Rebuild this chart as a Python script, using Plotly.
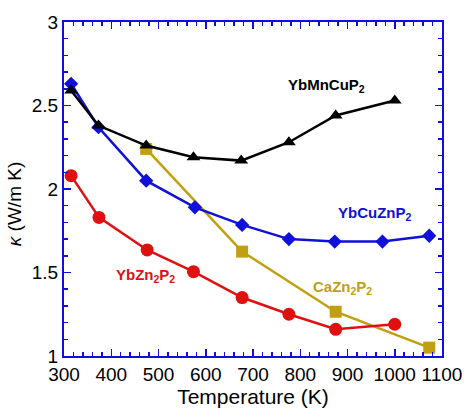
import plotly.graph_objects as go

T_mncu = [315, 373, 474, 574, 675, 776, 875, 1000]
k_mncu = [2.59, 2.38, 2.26, 2.19, 2.17, 2.28, 2.44, 2.53]

T_cuzn = [315, 373, 474, 577, 677, 776, 873, 974, 1073]
k_cuzn = [2.63, 2.37, 2.05, 1.89, 1.785, 1.70, 1.685, 1.685, 1.72]

T_ybzn = [315, 374, 476, 574, 677, 776, 875, 1000]
k_ybzn = [2.08, 1.83, 1.635, 1.505, 1.35, 1.25, 1.16, 1.19]

T_cazn = [474, 677, 875, 1073]
k_cazn = [2.24, 1.625, 1.265, 1.05]

BLUE = "#1010d8"
RED = "#e01010"
GOLD = "#c0a010"
BLACK = "#000000"
FONT = "Arial, Liberation Sans"

fig = go.Figure()
series = [
    (T_cazn, k_cazn, GOLD, "square", 12),
    (T_ybzn, k_ybzn, RED, "circle", 13),
    (T_cuzn, k_cuzn, BLUE, "diamond", 11),
    (T_mncu, k_mncu, BLACK, "triangle-up", 12),
]
for x, y, c, sym, sz in series:
    fig.add_trace(go.Scatter(x=x, y=y, mode="lines+markers",
                             line=dict(color=c, width=2.5),
                             marker=dict(symbol=sym, size=sz, color=c),
                             showlegend=False))

labels = [
    (855, 2.62, "YbMnCuP<sub>2</sub>", BLACK),
    (958, 1.855, "YbCuZnP<sub>2</sub>", BLUE),
    (473, 1.48, "YbZn<sub>2</sub>P<sub>2</sub>", RED),
    (890, 1.41, "CaZn<sub>2</sub>P<sub>2</sub>", GOLD),
]
for x, y, t, c in labels:
    fig.add_annotation(x=x, y=y, text="<b>" + t + "</b>", showarrow=False,
                       font=dict(family=FONT, size=15, color=c))

fig.add_annotation(xref="paper", yref="paper", x=-0.131, y=0.456,
                   xanchor="center", yanchor="middle",
                   text="<i>κ</i> (W/m K)", textangle=-90, showarrow=False,
                   font=dict(family=FONT, size=19, color="black"))

tick_common = dict(ticks="inside", tickcolor=BLUE, tickwidth=1.5, ticklen=7)
minor_x = dict(dtick=20, ticks="inside", ticklen=4, tickcolor=BLUE, tickwidth=1.5)
minor_y = dict(dtick=0.1, ticks="inside", ticklen=4, tickcolor=BLUE, tickwidth=1.5)
axis_common = dict(showgrid=False, zeroline=False, showline=True,
                   linecolor=BLUE, linewidth=2, mirror=True,
                   ticklabeloverflow="allow", **tick_common)

fig.update_layout(
    xaxis=dict(range=[300, 1100], dtick=100, tick0=300, minor=minor_x,
               tickfont=dict(family=FONT, size=19, color="black"),
               title=dict(text="Temperature (K)", font=dict(family=FONT, size=21, color="black"), standoff=6),
               **axis_common),
    yaxis=dict(range=[1, 3], dtick=0.5, tick0=1, minor=minor_y,
               tickfont=dict(family=FONT, size=19, color="black"),
               **axis_common),
    xaxis2=dict(range=[300, 1100], dtick=100, tick0=300, minor=minor_x,
                overlaying="x", side="top", showticklabels=False,
                showgrid=False, zeroline=False, **tick_common),
    yaxis2=dict(range=[1, 3], dtick=0.5, tick0=1, minor=minor_y,
                overlaying="y", side="right", showticklabels=False,
                showgrid=False, zeroline=False, **tick_common),
)
fig.add_trace(go.Scatter(x=[300], y=[1], xaxis="x2", yaxis="y2", mode="markers",
                         marker=dict(opacity=0), showlegend=False, hoverinfo="skip"))

fig.update_layout(width=474, height=417, plot_bgcolor="white", paper_bgcolor="white",
                  margin=dict(l=64, r=22, t=13, b=60), hovermode=False)

fig.write_html("out.html", config={"displayModeBar": False, "staticPlot": True},
               post_script="document.body.style.margin='0';")
